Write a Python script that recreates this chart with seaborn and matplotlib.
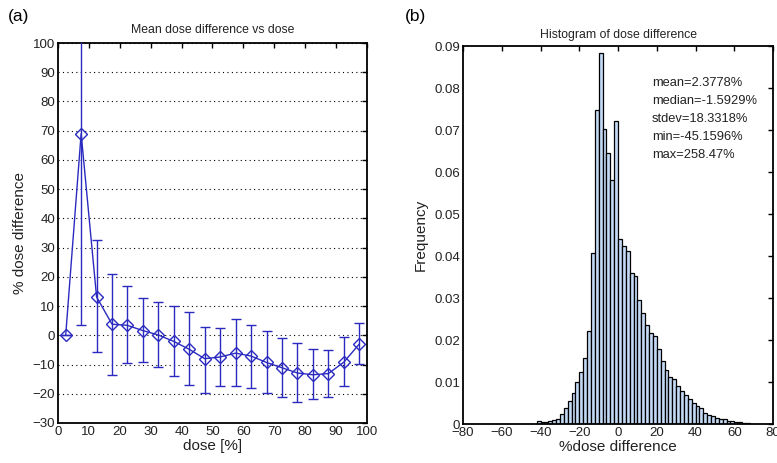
import numpy as np
import pandas as pd
import matplotlib
matplotlib.use("Agg")
import matplotlib.pyplot as plt
import seaborn as sns
from matplotlib.ticker import FuncFormatter

# ---------------- data: panel (a) ----------------
dose = [2.5, 7.5, 12.5, 17.5, 22.5, 27.5, 32.5, 37.5, 42.5, 47.5,
        52.5, 57.5, 62.5, 67.5, 72.5, 77.5, 82.5, 87.5, 92.5, 97.5]
mean_diff = [0.0, 69.0, 13.1, 3.8, 3.4, 1.6, 0.1, -2.1, -4.8, -8.0,
             -7.4, -6.1, -7.1, -9.3, -11.1, -12.9, -13.5, -13.1, -9.2, -3.0]
err_low = [0.0, 3.5, -5.8, -13.5, -9.5, -9.0, -10.7, -14.0, -17.1, -19.6,
           -17.4, -17.4, -18.1, -19.6, -21.1, -22.8, -21.9, -21.1, -17.4, -9.9]
err_high = [0.0, 135.0, 32.5, 21.0, 17.0, 12.6, 11.3, 9.9, 7.9, 3.0,
            2.5, 5.6, 3.6, 1.6, -1.0, -2.7, -4.7, -5.0, -0.5, 4.2]

# ---------------- data: panel (b) ----------------
bin_edges = list(range(-42, 70, 2))
freq = [0.0006, 0.0004, 0.0005, 0.0008, 0.0010, 0.0013, 0.0024, 0.0037, 0.0054, 0.0074,
        0.0101, 0.0124, 0.0156, 0.0222, 0.0408, 0.0748, 0.0883, 0.0702, 0.0646, 0.0580,
        0.0722, 0.0440, 0.0423, 0.0413, 0.0360, 0.0352, 0.0296, 0.0264, 0.0235, 0.0217,
        0.0209, 0.0179, 0.0151, 0.0128, 0.0112, 0.0107, 0.0091, 0.0078, 0.0068, 0.0060,
        0.0051, 0.0043, 0.0037, 0.0027, 0.0022, 0.0020, 0.0015, 0.0013, 0.0012, 0.0008,
        0.0007, 0.0005, 0.0004, 0.0002, 0.0002]
stats_text = ["mean=2.3778%", "median=-1.5929%", "stdev=18.3318%",
              "min=-45.1596%", "max=258.47%"]

# ---------------- style ----------------
sns.set_theme(style="white")
plt.rcParams['font.family'] = ['Liberation Sans', 'DejaVu Sans']
TXT = "#222222"
BLUE = "#2a2ac0"

fig = plt.figure(figsize=(7.77, 4.63), dpi=100)
axA = fig.add_axes([0.0746, 0.0864, 0.3977, 0.8207])
axB = fig.add_axes([0.5959, 0.0842, 0.3990, 0.8164])

for ax in (axA, axB):
    for s in ax.spines.values():
        s.set_color("black")
        s.set_linewidth(1.3)
    ax.tick_params(direction="in", length=3.5, width=1.0, top=True, right=True,
                   labelsize=9.5, labelcolor=TXT, color="black", pad=2)

# ---------------- panel (a) ----------------
dfA = pd.DataFrame({"dose": dose, "mean": mean_diff})
yerr = [np.array(mean_diff) - np.array(err_low), np.array(err_high) - np.array(mean_diff)]
axA.errorbar(dose, mean_diff, yerr=yerr, fmt="none", ecolor=BLUE, elinewidth=1.0,
             capsize=3.5, capthick=1.0, zorder=3)
sns.lineplot(data=dfA, x="dose", y="mean", ax=axA, color=BLUE, linewidth=1.0,
             marker="D", markersize=6, markerfacecolor="none", markeredgecolor=BLUE,
             markeredgewidth=1.0, zorder=4)
axA.set_xlim(0, 100)
axA.set_ylim(-30, 100)
axA.set_xticks(range(0, 101, 10))
axA.set_yticks(range(-30, 101, 10))
axA.yaxis.grid(True, linestyle=(0, (1, 3)), color="black", linewidth=0.8)
axA.xaxis.grid(False)
axA.set_axisbelow(True)
axA.set_xlabel("dose [%]", fontsize=11, color=TXT, labelpad=1)
axA.set_ylabel("% dose difference", fontsize=11, color=TXT, labelpad=4)
axA.set_title("Mean dose difference vs dose", fontsize=8.8, color=TXT, pad=7)
fig.text(0.010, 0.965, "(a)", fontsize=12.5, color="black", va="center", ha="left")

# ---------------- panel (b) ----------------
centers = [(bin_edges[i] + bin_edges[i + 1]) / 2 for i in range(len(freq))]
dfB = pd.DataFrame({"x": centers, "w": freq})
sns.histplot(data=dfB, x="x", weights="w", bins=bin_edges, ax=axB,
             color="#c4d9f3", edgecolor="black", linewidth=0.9, alpha=1.0)
axB.set_xlim(-80, 80)
axB.set_ylim(0, 0.09)
axB.set_xticks(range(-80, 81, 20))
axB.set_yticks(np.arange(0, 0.0901, 0.01))
axB.yaxis.set_major_formatter(FuncFormatter(lambda v, p: "0" if abs(v) < 1e-9 else f"{v:.2f}"))
axB.set_xlabel("%dose difference", fontsize=11, color=TXT, labelpad=1)
axB.set_ylabel("Frequency", fontsize=11, color=TXT, labelpad=5)
axB.set_title("Histogram of dose difference", fontsize=8.8, color=TXT, pad=6)
axB.text(0.61, 0.918, "\n".join(stats_text), transform=axB.transAxes, fontsize=9.3,
         color=TXT, va="top", ha="left", linespacing=1.68)
fig.text(0.521, 0.965, "(b)", fontsize=12.5, color="black", va="center", ha="left")

fig.savefig("out.png", dpi=100)
